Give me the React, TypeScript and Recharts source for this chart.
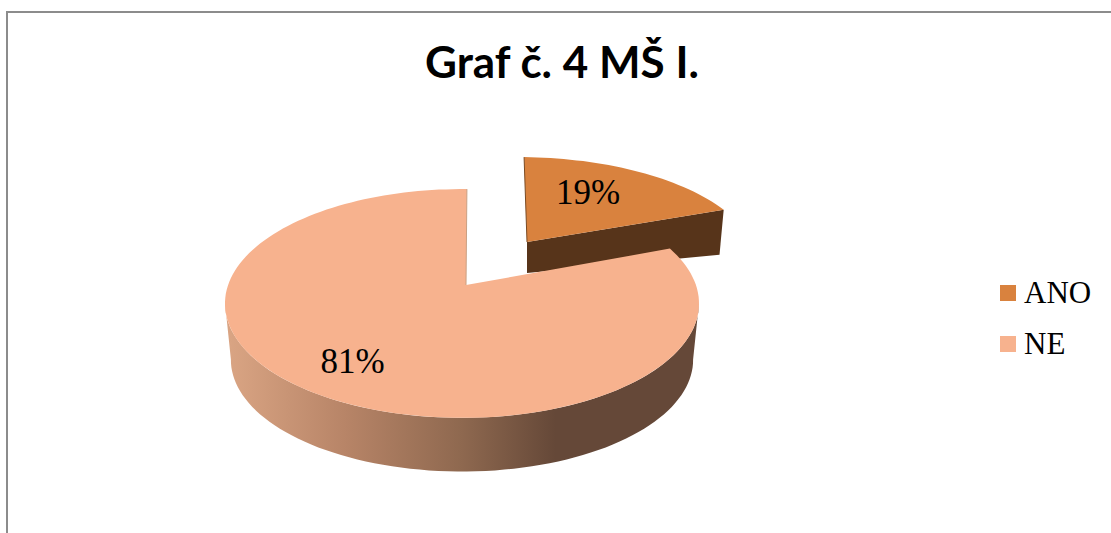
import React from 'react';
import { PieChart, Pie, Legend } from 'recharts';

const categories = ['ANO', 'NE'];
const shares = [19, 81];
const sliceColors = ['#d9823e', '#f7b28e'];
const chartTitle = 'Graf č. 4 MŠ I.';

const data = categories.map((name, i) => ({
  name,
  value: shares[i],
  fill: sliceColors[i],
}));

const WIDTH = 1111;
const HEIGHT = 533;
const FIRST_ANGLE = 88.6;
const PERSPECTIVE = 0.1615; // back of the disc is drawn smaller than the front
const Y_SQUASH = 0.47;
const X_SQUASH = 0.987;
const RAD = Math.PI / 180;

// top and bottom plane of each slice, relative to the pie centre
const planes: Record<string, any> = {
  ANO: {
    apexShift: 0,
    top: { dx: 65, dy: -43, sx: 0.96, sy: 0.885, shear: 0.09 },
    bottom: { dx: 65, dy: -12, sx: 0.93, sy: 0.5, shear: 0.047 },
  },
  NE: {
    apexShift: 4,
    top: { dx: 0, dy: 0, sx: 1, sy: 1, shear: 0 },
    bottom: { dx: 0, dy: 57, sx: 0.975, sy: 0.975, shear: 0 },
  },
};

const project = (cx: number, cy: number, r: number, deg: number, plane: any) => {
  const u = Math.cos(deg * RAD);
  const v = Math.sin(deg * RAD);
  const w = 1 + PERSPECTIVE * v;
  const py = (-r * Y_SQUASH * plane.sy * v) / w;
  const px = (r * X_SQUASH * plane.sx * u) / w + plane.shear * py;
  return { x: cx + plane.dx + px, y: cy + plane.dy + py };
};

const toPath = (pts: { x: number; y: number }[]) =>
  pts.map((p, i) => `${i ? 'L' : 'M'}${p.x.toFixed(1)} ${p.y.toFixed(1)}`).join(' ') + ' Z';

const arc = (from: number, to: number, fn: (a: number) => { x: number; y: number }) => {
  const steps = Math.max(2, Math.ceil(Math.abs(to - from) / 2));
  const pts = [];
  for (let i = 0; i <= steps; i++) pts.push(fn(from + ((to - from) * i) / steps));
  return pts;
};

const Slice3D = (props: any) => {
  const { cx, cy, outerRadius, startAngle, endAngle, fill, name } = props;
  const key = name ?? props.payload?.name;
  const plane = planes[key];
  const top = (a: number) => project(cx, cy, outerRadius, a, plane.top);
  const bottom = (a: number) => project(cx, cy, outerRadius, a, plane.bottom);
  const apex = { x: cx + plane.top.dx + plane.apexShift, y: cy + plane.top.dy };
  const topRim = arc(startAngle, endAngle, top);

  if (key === 'ANO') {
    const apexLow = { x: apex.x, y: cy + plane.bottom.dy };
    const face = [apex, top(endAngle), bottom(endAngle), apexLow];
    return (
      <g>
        <path d={toPath(face)} fill="#57341a" />
        <path d={toPath([apex, ...topRim])} fill={fill} />
        <line x1={apex.x} y1={apex.y} x2={top(startAngle).x} y2={top(startAngle).y} stroke="#7a4a22" strokeWidth={1} />
      </g>
    );
  }

  // front wall runs between the two widest points of the disc
  const wallTop = arc(189, 351, top);
  const wallBottom = arc(351, 189, bottom);
  return (
    <g>
      <defs>
        <linearGradient id="neWall" gradientUnits="userSpaceOnUse" x1={230} y1={0} x2={695} y2={0}>
          <stop offset="0%" stopColor="#d9a483" />
          <stop offset="25%" stopColor="#b78467" />
          <stop offset="50%" stopColor="#8e684f" />
          <stop offset="70%" stopColor="#654838" />
          <stop offset="100%" stopColor="#654838" />
        </linearGradient>
      </defs>
      <path d={toPath([...wallTop, ...wallBottom])} fill="url(#neWall)" />
      <path d={toPath([apex, ...topRim])} fill={fill} />
      <line x1={apex.x} y1={apex.y} x2={top(endAngle).x} y2={top(endAngle).y} stroke="#c9a083" strokeWidth={1} />
    </g>
  );
};

const labelReach: Record<string, number[]> = {
  ANO: [0.56, 0.7],
  NE: [0.705, 0.73],
};

const renderPercent = (props: any) => {
  const { cx, cy, outerRadius, midAngle, percent, name } = props;
  const key = name ?? props.payload?.name;
  const plane = planes[key].top;
  const [fx, fy] = labelReach[key];
  const p = project(cx, cy, outerRadius, midAngle, plane);
  const ax = cx + plane.dx + planes[key].apexShift;
  const ay = cy + plane.dy;
  return (
    <text
      x={ax + (p.x - ax) * fx}
      y={ay + (p.y - ay) * fy}
      textAnchor="middle"
      dominantBaseline="central"
      fontFamily="Liberation Serif"
      fontSize={35}
      fill="#000"
    >
      {`${Math.round(percent * 100)}%`}
    </text>
  );
};

const renderLegend = ({ payload }: any) => (
  <div>
    {(payload || []).map((entry: any) => (
      <div
        key={entry.value}
        style={{ display: 'flex', alignItems: 'center', height: 51, fontFamily: 'Liberation Serif', fontSize: 31, color: '#000' }}
      >
        <span style={{ width: 16, height: 16, background: entry.color, marginRight: 8, display: 'inline-block' }} />
        {entry.value}
      </div>
    ))}
  </div>
);

export default function App() {
  return (
    <div style={{ position: 'absolute', left: 0, top: 0, width: WIDTH, height: HEIGHT, background: '#fff', overflow: 'hidden' }}>
      <div
        style={{
          position: 'absolute',
          left: 6,
          top: 11,
          right: 0,
          bottom: 0,
          borderLeft: '2px solid #8c8c8c',
          borderTop: '2px solid #8c8c8c',
        }}
      />
      <PieChart
        width={WIDTH}
        height={HEIGHT}
        margin={{ top: 0, right: 0, bottom: 0, left: 0 }}
        style={{ position: 'absolute', left: 0, top: 0 }}
      >
        <text x={562} y={78} textAnchor="middle" fontFamily="Lato" fontWeight={700} fontSize={44} fill="#000">
          {chartTitle}
        </text>
        <Pie
          data={data}
          dataKey="value"
          nameKey="name"
          cx={462}
          cy={285}
          outerRadius={237}
          startAngle={FIRST_ANGLE}
          endAngle={FIRST_ANGLE - 360}
          stroke="none"
          shape={Slice3D}
          label={renderPercent}
          labelLine={false}
          isAnimationActive={false}
        />
        <Legend
          content={renderLegend}
          layout="vertical"
          wrapperStyle={{ position: 'absolute', left: 1000, top: 267, width: 110 }}
        />
      </PieChart>
    </div>
  );
}
